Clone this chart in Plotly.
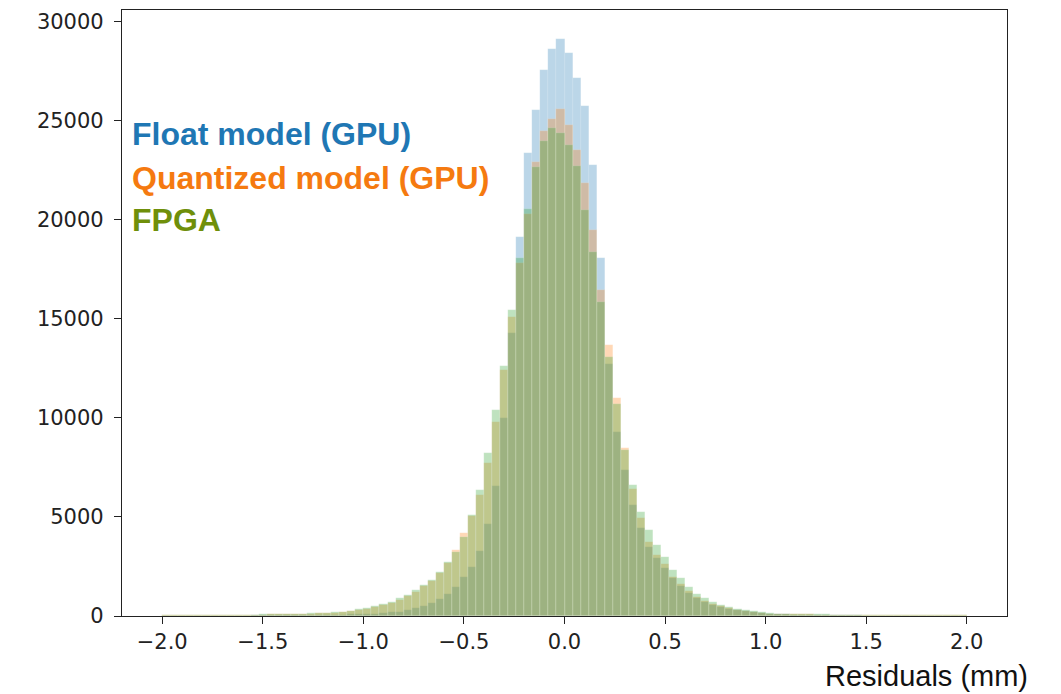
import numpy as np
import plotly.graph_objects as go

# Histogram binning: 100 bins of width 0.04 mm between -2 and 2 mm
bin_edges = np.linspace(-2.0, 2.0, 101)
bin_centers = (bin_edges[:-1] + bin_edges[1:]) / 2
bin_width = 0.04

# Counts per bin (left to right)
float_gpu = [
    15, 15, 15, 15, 20, 20, 20, 20, 25, 25,
    25, 30, 30, 30, 35, 35, 40, 45, 50, 55,
    60, 65, 70, 80, 90, 100, 120, 150, 180, 220,
    300, 390, 500, 640, 840, 1110, 1450, 1950, 2460, 3300,
    4650, 6570, 10000, 14280, 19130, 23370, 25560, 27550, 28620, 29140,
    28420, 27160, 25730, 22750, 18070, 12700, 9300, 7370, 5600, 4430,
    3500, 2910, 2410, 1900, 1500, 1150, 900, 700, 560, 450,
    360, 290, 230, 180, 140, 110, 90, 80, 70, 60,
    55, 50, 45, 40, 35, 30, 30, 25, 25, 20,
    20, 20, 15, 15, 15, 15, 10, 10, 10, 10,
]

quantized_gpu = [
    35, 35, 40, 40, 45, 45, 50, 55, 55, 60,
    65, 70, 75, 80, 85, 95, 100, 110, 125, 140,
    155, 170, 200, 250, 310, 360, 470, 570, 680, 830,
    1000, 1200, 1490, 1760, 2180, 2700, 3330, 4200, 5050, 6110,
    7740, 9800, 12430, 15120, 17820, 20300, 22900, 24500, 25090, 25590,
    24800, 23540, 21850, 19500, 16470, 13690, 11000, 8500, 6400, 4930,
    3750, 3080, 2630, 1950, 1620, 1250, 950, 760, 620, 480,
    390, 310, 250, 200, 160, 125, 110, 100, 90, 85,
    80, 75, 70, 65, 60, 55, 55, 50, 50, 45,
    45, 40, 40, 40, 35, 35, 35, 30, 30, 30,
]

fpga = [
    40, 40, 45, 45, 50, 50, 55, 60, 60, 65,
    70, 75, 80, 85, 95, 100, 110, 120, 135, 150,
    165, 190, 220, 270, 340, 390, 520, 610, 720, 890,
    1060, 1300, 1570, 1820, 2240, 2740, 3250, 4010, 5100, 6350,
    8250, 10400, 12630, 15460, 18070, 20560, 22650, 24010, 24630, 24380,
    23790, 22700, 20510, 18400, 15880, 13100, 10710, 8400, 6620, 5250,
    4340, 3570, 2980, 2340, 1900, 1460, 1120, 900, 720, 560,
    460, 360, 300, 230, 180, 140, 120, 110, 100, 95,
    90, 85, 80, 75, 70, 65, 60, 60, 55, 55,
    50, 50, 45, 45, 45, 40, 40, 40, 35, 35,
]

series = [
    ("Float model (GPU)", float_gpu, "rgba(31,119,180,0.3)", "#1f77b4"),
    ("Quantized model (GPU)", quantized_gpu, "rgba(255,127,14,0.3)", "#f57a10"),
    ("FPGA", fpga, "rgba(44,160,44,0.3)", "#6f8f0a"),
]

fig = go.Figure()
for name, counts, fill, _ in series:
    fig.add_trace(go.Bar(
        x=bin_centers,
        y=counts,
        width=bin_width,
        name=name,
        marker=dict(color=fill, line=dict(width=0.4, color="rgba(255,255,255,0.35)")),
        showlegend=False,
    ))

# Coloured text labels acting as the legend
label_y = [0.795, 0.723, 0.653]
for (name, _, _, text_color), yp in zip(series, label_y):
    fig.add_annotation(
        text=f"<b>{name}</b>", xref="paper", yref="paper",
        x=0.009, y=yp, xanchor="left", yanchor="middle",
        showarrow=False,
        font=dict(family="Liberation Sans, Arial, sans-serif", size=32, color=text_color),
    )

fig.add_annotation(
    text="Residuals (mm)", xref="paper", yref="paper",
    x=1.026, y=-0.099, xanchor="right", yanchor="middle",
    showarrow=False,
    font=dict(family="Liberation Sans, Arial, sans-serif", size=29, color="#111111"),
)

tick_font = dict(family="DejaVu Sans, sans-serif", size=21, color="#222222")

fig.update_layout(
    width=1061, height=694,
    margin=dict(l=122, r=54, t=10, b=78),
    barmode="overlay",
    bargap=0,
    plot_bgcolor="white",
    paper_bgcolor="white",
    xaxis=dict(
        range=[-2.2, 2.2],
        tickvals=[-2.0, -1.5, -1.0, -0.5, 0.0, 0.5, 1.0, 1.5, 2.0],
        tickformat=".1f",
        ticks="outside", ticklen=7, tickwidth=1.2, tickcolor="#222222",
        showline=True, linecolor="#222222", linewidth=1.2, mirror=True,
        showgrid=False, zeroline=False,
        tickfont=tick_font,
    ),
    yaxis=dict(
        range=[0, 30600],
        tickvals=[0, 5000, 10000, 15000, 20000, 25000, 30000],
        tickformat="d",
        ticks="outside", ticklen=7, tickwidth=1.2, tickcolor="#222222",
        showline=True, linecolor="#222222", linewidth=1.2, mirror=True,
        showgrid=False, zeroline=False,
        tickfont=tick_font,
        ticklabelstandoff=6,
    ),
)

fig.write_html("out.html")
